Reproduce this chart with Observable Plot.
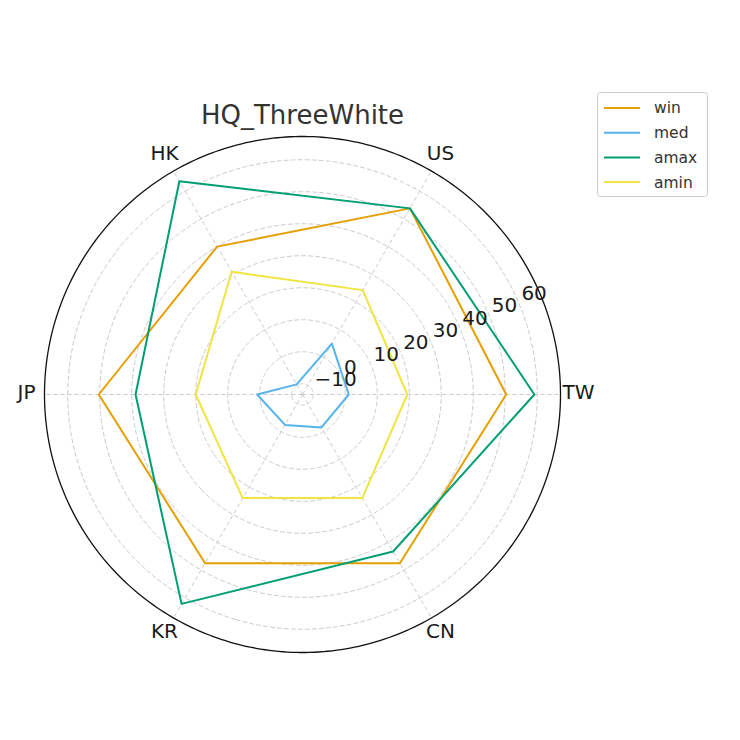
<!DOCTYPE html>
<html>
<head>
<meta charset="utf-8">
<script src="https://cdn.jsdelivr.net/npm/d3@7"></script>
<script src="https://cdn.jsdelivr.net/npm/@observablehq/plot@0.6"></script>
<style>
  body { margin: 0; background: #fff; }
  #wrap { position: relative; width: 740px; height: 740px; font-family: "DejaVu Sans", sans-serif; }
  #wrap > svg { position: absolute; left: 0; top: 0; }
</style>
</head>
<body>
<div id="wrap"></div>
<script>
// ---- data ----
const title = "HQ_ThreeWhite";
const categories = ["TW", "US", "HK", "JP", "KR", "CN"];
const angles = [0, 60, 120, 180, 240, 300];
const seriesNames = ["win", "med", "amax", "amin"];
const seriesColors = ["#E69F00", "#56B4E9", "#009E73", "#F0E442"];
const win  = [50.3, 53.8, 40.0, 50.3, 47.5, 47.5];
const med  = [1.1, 5.0, -9.7, 0.8, -2.4, -1.5];
const amax = [59.1, 53.8, 63.6, 38.8, 62.2, 43.3];
const amin = [19.4, 24.3, 30.9, 20.0, 24.0, 24.0];
const tickValues = [-10, 0, 10, 20, 30, 40, 50, 60];
const tickLabels = ["\u221210", "0", "10", "20", "30", "40", "50", "60"];

// ---- derived ----
const seriesValues = [win, med, amax, amin];
const points = seriesNames.flatMap((name, s) =>
  categories.map((c, i) => ({name, category: c, angle: angles[i], value: seriesValues[s][i]})));
const all = points.map(d => d.value);
const lo = d3.min(all), hi = d3.max(all), pad = 0.05 * (hi - lo);
const rmin = lo - pad, rmax = hi + pad, R = rmax - rmin;
const lon = a => 90 + a;
const lat = v => 90 - (v - rmin);
const circle = r => d3.geoCircle().center([0, 90]).radius(r).precision(1)();

const gridStyle = {stroke: "#c4c4c4", strokeWidth: 0.9, strokeDasharray: "4,3"};

const chart = Plot.plot({
  width: 740,
  height: 740,
  marginLeft: 44, marginRight: 180, marginTop: 136, marginBottom: 88,
  projection: {type: "azimuthal-equidistant", rotate: [0, -90], domain: circle(R), clip: false},
  color: {domain: seriesNames, range: seriesColors},
  style: {fontFamily: "DejaVu Sans", background: "transparent", overflow: "visible"},
  marks: [
    Plot.geo(tickValues, {geometry: t => circle(t - rmin), fill: "none", ...gridStyle}),
    Plot.link(angles, {x1: a => lon(a), y1: () => 90, x2: a => lon(a), y2: () => 90 - R, ...gridStyle}),
    Plot.geo(circle(R), {stroke: "#111", strokeWidth: 1.3, fill: "none"}),
    Plot.line(points, {
      x: d => lon(d.angle), y: d => lat(d.value), z: "name", stroke: "name",
      strokeWidth: 2, curve: "linear-closed"
    }),
    Plot.text(categories, {
      x: (d, i) => lon(angles[i]), y: () => 90 - R * 276 / 258, text: d => d,
      fontSize: 20, fill: "#1a1a1a", dy: -1.5
    }),
    Plot.text(tickValues, {
      x: () => lon(22.5), y: t => lat(t), text: (t, i) => tickLabels[i],
      textAnchor: "start", lineAnchor: "bottom", dx: 2, dy: -4.5,
      fontSize: 20, fill: "#1a1a1a"
    }),
    Plot.text([title], {
      frameAnchor: "top", lineAnchor: "middle", dy: -21, text: d => d,
      fontSize: 26, fill: "#333"
    })
  ]
});

const wrap = document.getElementById("wrap");
wrap.appendChild(chart);

// ---- legend (matplotlib-style line swatches) ----
const leg = d3.create("svg").attr("width", 740).attr("height", 740)
  .style("pointer-events", "none").style("font-family", "DejaVu Sans");
leg.append("rect").attr("x", 597.5).attr("y", 92.5).attr("width", 110).attr("height", 104)
  .attr("rx", 3).attr("fill", "white").attr("fill-opacity", 0.8).attr("stroke", "#cccccc");
seriesNames.forEach((name, i) => {
  const y = 108 + i * 24.7;
  leg.append("line").attr("x1", 604).attr("x2", 640).attr("y1", y).attr("y2", y)
    .attr("stroke", seriesColors[i]).attr("stroke-width", 2);
  leg.append("text").attr("x", 654).attr("y", y).attr("dy", "0.35em")
    .attr("font-size", 15.5).attr("fill", "#333").text(name);
});
wrap.appendChild(leg.node());
</script>
</body>
</html>
